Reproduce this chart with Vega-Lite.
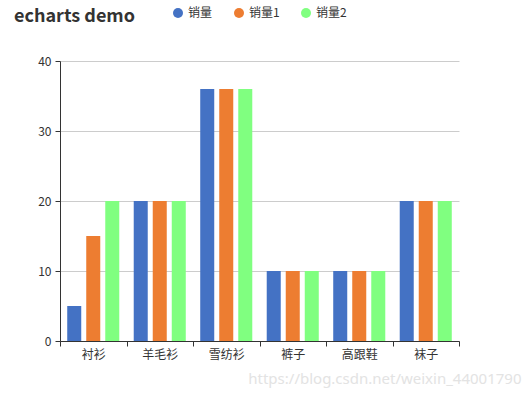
{
  "$schema": "https://vega.github.io/schema/vega-lite/v6.json",
  "autosize": {"type": "none"},
  "width": 399,
  "height": 280,
  "padding": {"left": 60, "top": 61, "right": 72, "bottom": 55},
  "background": "#ffffff",
  "title": {
    "text": "echarts demo",
    "anchor": "start",
    "frame": "group",
    "dx": -46,
    "offset": 30,
    "dy": 49,
    "fontSize": 18,
    "fontWeight": "bold",
    "color": "#333333",
    "font": "Noto Sans CJK SC"
  },
  "data": {
    "values": [
      {"category": "衬衫", "series": "销量", "value": 5},
      {"category": "衬衫", "series": "销量1", "value": 15},
      {"category": "衬衫", "series": "销量2", "value": 20},
      {"category": "羊毛衫", "series": "销量", "value": 20},
      {"category": "羊毛衫", "series": "销量1", "value": 20},
      {"category": "羊毛衫", "series": "销量2", "value": 20},
      {"category": "雪纺衫", "series": "销量", "value": 36},
      {"category": "雪纺衫", "series": "销量1", "value": 36},
      {"category": "雪纺衫", "series": "销量2", "value": 36},
      {"category": "裤子", "series": "销量", "value": 10},
      {"category": "裤子", "series": "销量1", "value": 10},
      {"category": "裤子", "series": "销量2", "value": 10},
      {"category": "高跟鞋", "series": "销量", "value": 10},
      {"category": "高跟鞋", "series": "销量1", "value": 10},
      {"category": "高跟鞋", "series": "销量2", "value": 10},
      {"category": "袜子", "series": "销量", "value": 20},
      {"category": "袜子", "series": "销量1", "value": 20},
      {"category": "袜子", "series": "销量2", "value": 20}
    ]
  },
  "mark": {"type": "bar"},
  "encoding": {
    "x": {
      "field": "category",
      "type": "nominal",
      "sort": null,
      "scale": {"paddingInner": 0, "paddingOuter": 0},
      "axis": {
        "title": "https://blog.csdn.net/weixin_44001790",
        "titleX": 461,
        "titleY": 37,
        "titleAlign": "right",
        "titleAnchor": null,
        "titleBaseline": "middle",
        "titleFontSize": 15,
        "titleFontWeight": "normal",
        "titleColor": "#e3e3e3",
        "titleFont": "Noto Sans",
        "labelAngle": 0,
        "labelFontSize": 12,
        "labelColor": "#333333",
        "labelFont": "Noto Sans CJK SC",
        "labelPadding": 3,
        "tickBand": "extent",
        "tickColor": "#333333",
        "tickSize": 5,
        "domainColor": "#333333",
        "domainWidth": 1,
        "grid": false
      }
    },
    "xOffset": {
      "field": "series",
      "type": "nominal",
      "scale": {"paddingInner": 0.263, "paddingOuter": 0.38}
    },
    "y": {
      "field": "value",
      "type": "quantitative",
      "scale": {"domain": [0, 40]},
      "axis": {
        "title": null,
        "values": [0, 10, 20, 30, 40],
        "labelFontSize": 12,
        "labelColor": "#333333",
        "labelFont": "Noto Sans CJK SC",
        "labelPadding": 4,
        "tickColor": "#333333",
        "tickSize": 5,
        "domainColor": "#333333",
        "gridColor": "#cccccc",
        "gridWidth": 1
      }
    },
    "color": {
      "field": "series",
      "type": "nominal",
      "scale": {"domain": ["销量", "销量1", "销量2"], "range": ["#4472C4", "#ED7D31", "#80FF80"]},
      "legend": {
        "title": null,
        "orient": "none",
        "direction": "horizontal",
        "legendX": 112,
        "legendY": -54,
        "symbolType": "circle",
        "symbolSize": 100,
        "symbolStrokeWidth": 0,
        "symbolOpacity": 1,
        "labelFontSize": 12,
        "labelColor": "#333333",
        "labelFont": "Noto Sans CJK SC",
        "labelOffset": 4,
        "columnPadding": 20
      }
    }
  },
  "config": {
    "view": {"stroke": null},
    "axis": {"domainOpacity": 1}
  }
}
